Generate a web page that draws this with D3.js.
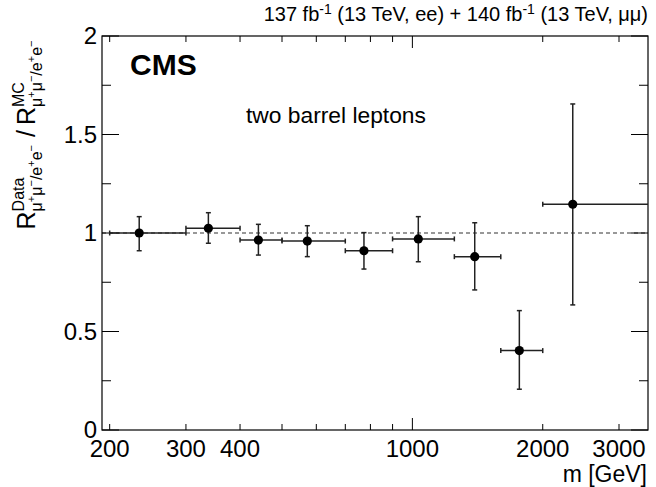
<!DOCTYPE html>
<html>
<head>
<meta charset="utf-8">
<script src="https://cdn.jsdelivr.net/npm/d3@7"></script>
<style>
  body { margin: 0; background: white; }
  text { font-family: "Liberation Sans", Arial, Helvetica, sans-serif; }
</style>
</head>
<body>
<svg id="chart" width="656" height="487"></svg>
<script>
// bins in dilepton mass (GeV)
const binLow = [200, 300, 400, 500, 700, 900, 1250, 1600, 2000];
const binHigh = [300, 400, 500, 700, 900, 1250, 1600, 2000, 3500];
const massCenter = [234, 338, 441, 572, 773, 1032, 1393, 1766, 2346];
const ratio = [1.0, 1.024, 0.964, 0.959, 0.91, 0.97, 0.88, 0.403, 1.146];
const ratioHigh = [1.083, 1.103, 1.044, 1.037, 1.002, 1.083, 1.052, 0.606, 1.655];
const ratioLow = [0.91, 0.948, 0.888, 0.88, 0.817, 0.854, 0.711, 0.207, 0.635];

const xTicks = [200, 300, 400, 500, 600, 700, 800, 900, 1000, 2000, 3000];
const xTickLabels = [200, 300, 400, 1000, 2000, 3000];
const yMajor = [0, 0.5, 1, 1.5, 2];
const yMinor = [0.25, 0.75, 1.25, 1.75];
const yTickLabels = ["0", "0.5", "1", "1.5", "2"];

const data = massCenter.map((m, i) => ({
  m: m, lo: binLow[i], hi: binHigh[i],
  r: ratio[i], rHi: ratioHigh[i], rLo: ratioLow[i],
}));

const marginLeft = 102;
const marginRight = 8;
const marginTop = 36;
const marginBottom = 57;
const width = 656;
const height = 487;

const svg = d3.select("#chart");

const x = d3.scaleLog()
  .domain([192, 3500])
  .range([marginLeft, width - marginRight]);

const y = d3.scaleLinear()
  .domain([0, 2])
  .range([height - marginBottom, marginTop]);

const x0 = x.range()[0], x1 = x.range()[1];
const y0 = y.range()[0], y1 = y.range()[1];

// reference line at 1
svg.append("line")
  .attr("x1", x0).attr("x2", x1)
  .attr("y1", y(1)).attr("y2", y(1))
  .attr("stroke", "#333")
  .attr("stroke-width", 1.2)
  .attr("stroke-dasharray", "4,3");

// ticks, ROOT style on all four sides
const ticks = svg.append("g").attr("stroke", "black").attr("stroke-width", 1);
xTicks.forEach((t) => {
  const len = t === 1000 ? 12 : 6;
  ticks.append("line").attr("x1", x(t)).attr("x2", x(t)).attr("y1", y0).attr("y2", y0 - len);
  ticks.append("line").attr("x1", x(t)).attr("x2", x(t)).attr("y1", y1).attr("y2", y1 + len);
});
yMajor.concat(yMinor).forEach((t) => {
  const len = yMajor.includes(t) ? 17 : 9;
  ticks.append("line").attr("x1", x0).attr("x2", x0 + len).attr("y1", y(t)).attr("y2", y(t));
  ticks.append("line").attr("x1", x1).attr("x2", x1 - len).attr("y1", y(t)).attr("y2", y(t));
});

// frame
svg.append("rect")
  .attr("x", x0).attr("y", y1)
  .attr("width", x1 - x0).attr("height", y0 - y1)
  .attr("fill", "none")
  .attr("stroke", "black")
  .attr("stroke-width", 1.2);

// tick labels
svg.append("g")
  .selectAll("text")
  .data(xTickLabels)
  .join("text")
  .attr("x", (d) => x(d))
  .attr("y", 457)
  .attr("text-anchor", "middle")
  .style("font-size", "24px")
  .text((d) => d);

svg.append("g")
  .selectAll("text")
  .data(yMajor)
  .join("text")
  .attr("x", 97)
  .attr("y", (d) => y(d))
  .attr("dy", "0.35em")
  .attr("text-anchor", "end")
  .style("font-size", "24px")
  .text((d, i) => yTickLabels[i]);

svg.append("text")
  .attr("x", 647)
  .attr("y", 482)
  .attr("text-anchor", "end")
  .style("font-size", "23px")
  .text("m [GeV]");

// error bars and markers
const pts = svg.append("g").attr("stroke", "#222").attr("stroke-width", 1.5);
const cap = 2.5;
data.forEach((d) => {
  const cx = x(d.m), cy = y(d.r);
  const xl = x(d.lo), xr = Math.min(x(d.hi), x1);
  const yt = y(d.rHi), yb = y(d.rLo);
  pts.append("line").attr("x1", xl).attr("x2", xr).attr("y1", cy).attr("y2", cy);
  pts.append("line").attr("x1", cx).attr("x2", cx).attr("y1", yt).attr("y2", yb);
  pts.append("line").attr("x1", xl).attr("x2", xl).attr("y1", cy - cap).attr("y2", cy + cap);
  if (x(d.hi) < x1) {
    pts.append("line").attr("x1", xr).attr("x2", xr).attr("y1", cy - cap).attr("y2", cy + cap);
  }
  pts.append("line").attr("x1", cx - cap).attr("x2", cx + cap).attr("y1", yt).attr("y2", yt);
  pts.append("line").attr("x1", cx - cap).attr("x2", cx + cap).attr("y1", yb).attr("y2", yb);
});
svg.append("g")
  .selectAll("circle")
  .data(data)
  .join("circle")
  .attr("cx", (d) => x(d.m))
  .attr("cy", (d) => y(d.r))
  .attr("r", 4.6)
  .attr("fill", "black");

// labels inside the frame
svg.append("text")
  .attr("x", 130)
  .attr("y", 75)
  .style("font-size", "30px")
  .style("font-weight", "bold")
  .text("CMS");

svg.append("text")
  .attr("x", 246)
  .attr("y", 123)
  .style("font-size", "22.8px")
  .text("two barrel leptons");

// luminosity label
const lumi = svg.append("text")
  .attr("x", 648)
  .attr("y", 21)
  .attr("text-anchor", "end")
  .style("font-size", "20px");
lumi.append("tspan").text("137 fb");
lumi.append("tspan").attr("dy", -7).style("font-size", "14px").text("-1");
lumi.append("tspan").attr("dy", 7).text(" (13 TeV, ee) + 140 fb");
lumi.append("tspan").attr("dy", -7).style("font-size", "14px").text("-1");
lumi.append("tspan").attr("dy", 7).text(" (13 TeV, \u03bc\u03bc)");

// y axis title, laid out piece by piece in a rotated group
const yTitle = svg.append("g");
function piece(str, size, dy, px) {
  const t = yTitle.append("text")
    .attr("x", px)
    .attr("y", dy)
    .style("font-size", size + "px")
    .text(str);
  return t.node().getComputedTextLength();
}
function subLabel(px) {
  // mu+ mu- / e+ e-
  let p = px;
  const parts = [["\u03bc", 0], ["+", 1], ["\u03bc", 0], ["\u2212", 1], ["/e", 0], ["+", 1], ["e", 0], ["\u2212", 1]];
  parts.forEach(([s, up]) => {
    p += up ? piece(s, 11, 0, p) : piece(s, 16, 7, p);
  });
  return p - px;
}
function ratioR(px, sup) {
  const wR = piece("R", 25, 0, px);
  const wSup = piece(sup, 16, -11, px + wR);
  const wSub = subLabel(px + wR);
  return wR + Math.max(wSup, wSub);
}
let pos = 0;
pos += ratioR(pos, "Data");
pos += 8;
pos += piece("/", 25, 0, pos);
pos += 5;
pos += ratioR(pos, "MC");
yTitle.attr("transform", `translate(35,${135 + pos / 2}) rotate(-90)`);
</script>
</body>
</html>
